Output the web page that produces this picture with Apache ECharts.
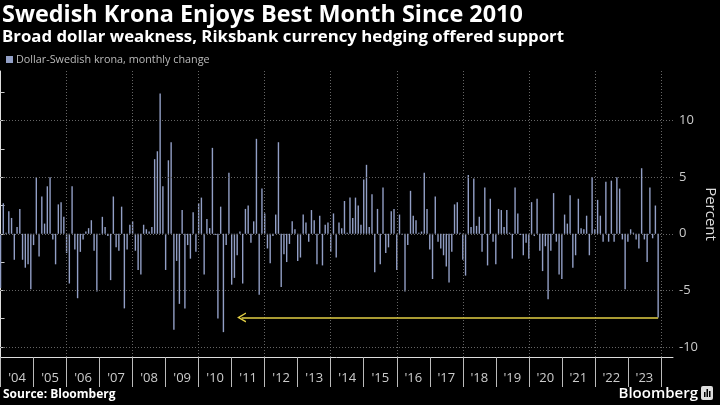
<!DOCTYPE html>
<html><head><meta charset="utf-8">
<script src="https://cdn.jsdelivr.net/npm/echarts@6/dist/echarts.min.js"></script>
<style>html,body{margin:0;padding:0;background:#000;}#c{width:720px;height:405px;}</style>
</head><body><div id="c"></div>
<script>
const titleText = 'Swedish Krona Enjoys Best Month Since 2010';
const subtitleText = 'Broad dollar weakness, Riksbank currency hedging offered support';
const seriesName = 'Dollar-Swedish krona, monthly change';
const sourceText = 'Source: Bloomberg';
const yAxisName = 'Percent';
// Monthly change (%) from Dec 2003 to Nov 2023, one value per month
const monthlyChange = [
 -4.8, 2.7, 0.1, 2.0, 1.4,-2.3, 0.6, 2.2,-2.3,-3.0,-2.7,-4.9,
 -1.0, 5.0,-2.0, 3.3, 0.9, 4.2, 5.0,-0.5,-2.7, 2.6, 2.8, 1.5,
 -1.7,-4.4, 4.2,-1.4,-5.7,-1.6,-0.5, 0.2, 0.5, 1.2,-1.5,-5.1,
 -0.1, 1.5, 0.6,-0.2,-4.1, 3.3,-1.2,-1.5, 2.4,-6.6,-1.4, 0.8,
  1.1,-1.5,-3.2,-3.6, 0.8, 0.4, 0.2, 0.6, 6.6, 7.3,12.4, 4.2,
 -3.2, 6.5, 8.1,-8.5,-2.4,-6.2, 2.1,-6.6,-1.0,-2.2, 1.9,-1.6,
  2.7, 3.2,-3.6, 1.3, 0.5, 7.6,-0.1,-7.5, 2.4,-8.7,-1.0, 5.4,
 -4.5,-3.9,-1.9, 0.2,-4.4, 2.2, 2.5,-0.8, 1.1, 8.4,-5.4, 4.0,
  1.8,-1.3,-2.6,-0.2, 1.7, 8.1,-4.7,-1.8,-2.5,-0.9, 1.1, 0.4,
 -2.4,-2.1, 1.7, 1.0,-0.7, 2.1, 1.2,-2.7, 1.6,-2.8, 0.8, 1.0,
 -1.6, 1.8,-2.1, 1.0, 0.5, 2.9, 0.1, 3.2, 1.4, 3.2, 2.5, 0.8,
  4.8, 6.1, 0.6, 3.5,-3.4, 2.2,-2.7, 4.1,-1.7,-1.2, 2.0, 2.2,
 -3.2, 1.7,-0.1,-5.1,-1.0, 3.8, 1.6, 1.2, 0.1, 0.2, 5.4, 2.2,
 -1.4,-4.0, 3.3,-0.7,-1.3,-1.9,-2.9,-4.3,-1.6, 2.6, 2.8, 0.1,
 -2.3,-3.7, 5.2, 0.6, 4.9, 0.7, 1.5,-1.6, 4.1,-2.8, 3.1,-0.7,
 -2.7, 2.2, 2.1, 0.6, 2.1, 0.1,-2.2, 4.1, 1.8,-0.1,-1.9,-0.8,
 -2.2, 2.8,-0.2, 3.1,-1.5,-3.3,-1.1,-5.8,-1.5, 3.6,-0.7,-3.6,
 -4.0, 1.7, 0.9, 3.4,-3.0,-1.9, 3.1, 0.5, 0.4, 1.6,-1.9, 5.0,
  0.4, 3.0, 1.6,-0.7, 4.6,-0.7, 4.7,-0.7, 5.0, 4.0,-0.5,-4.9,
 -0.7, 0.4, 0.1,-0.5,-1.3, 5.8,-0.5,-2.5, 4.1,-0.4, 2.5,-7.4
];
const yearLabels = ["'04","'05","'06","'07","'08","'09","'10","'11","'12","'13",
                    "'14","'15","'16","'17","'18","'19","'20","'21","'22","'23"];
const yTickValues = [-10,-7.5,-5,-2.5,0,2.5,5,7.5,10,12.5];
const yLabelValues = [-10,-5,0,5,10];
const arrowLevel = -7.4;      // latest month's change
const arrowTargetMonth = 87.6; // arrow tip, near Sep 2010

const barData = monthlyChange.map((v, i) => [i, v]);
const yearTicks = yearLabels.map((_, k) => 12 * k).concat([12 * yearLabels.length]);
const yearLabelPos = yearLabels.map((_, k) => 12 * k + 6);
const gridX = yearTicks.filter(v => v > 0 && v % 24 === 0);
const lastIndex = monthlyChange.length - 1;

const chart = echarts.init(document.getElementById('c'), null, {renderer: 'canvas'});
const FONT = '"Open Sans"';
chart.setOption({
  backgroundColor: '#000',
  animation: false,
  textStyle: {fontFamily: FONT},
  title: [
    {text: titleText, left: 2, top: 4, padding: 0,
     textStyle: {color: '#fff', fontSize: 23.4, fontWeight: 'bold', fontFamily: FONT}},
    {text: subtitleText, left: 2, top: 29, padding: 0,
     textStyle: {color: '#fff', fontSize: 16.8, fontWeight: 'bold', fontFamily: FONT}},
    {text: sourceText, left: 3, top: 389, padding: 0,
     textStyle: {color: '#fff', fontSize: 12, fontWeight: 'bold', fontFamily: FONT}}
  ],
  legend: {
    data: [seriesName], left: 6, top: 54, padding: 0, icon: 'rect',
    itemWidth: 7, itemHeight: 7, itemGap: 0,
    textStyle: {color: '#bbb', fontSize: 10.8, fontFamily: FONT, padding: [0,0,0,-2]}
  },
  grid: {left: 0, right: 47, top: 71, bottom: 48, containLabel: false, outerBoundsMode: 'none'},
  xAxis: {
    type: 'value', min: -0.2, max: 244.4,
    axisLine: {show: true, onZero: false, lineStyle: {color: '#ddd', width: 1}},
    axisTick: {show: true, customValues: yearTicks, length: 30, lineStyle: {color: '#bbb'}},
    axisLabel: {customValues: yearLabelPos, color: '#ccc', fontSize: 13, margin: 15,
      formatter: v => yearLabels[Math.round((v - 6) / 12)] || ''},
    splitLine: {show: false}
  },
  yAxis: {
    type: 'value', position: 'right', min: -10.9, max: 14.4,
    axisLine: {show: true, lineStyle: {color: '#ddd', width: 1}},
    axisTick: {show: true, customValues: yTickValues, length: 4, lineStyle: {color: '#ccc'}},
    axisLabel: {customValues: yLabelValues, color: '#ccc', fontSize: 13, margin: 6},
    splitLine: {show: false},
    name: yAxisName, nameLocation: 'middle', nameRotate: -90, nameGap: 30,
    nameMoveOverlap: false,
    nameTextStyle: {color: '#ddd', fontSize: 15, fontFamily: FONT}
  },
  series: [
    {
      type: 'line', data: barData, silent: true, z: 1,
      symbol: 'none', lineStyle: {opacity: 0},
      markLine: {
        silent: true, symbol: 'none', label: {show: false},
        lineStyle: {color: '#666', type: [1, 2], width: 1},
        data: yLabelValues.map(v => ({yAxis: v})).concat(gridX.map(v => ({xAxis: v})))
      }
    },
    {
      name: seriesName, type: 'bar', data: barData, barWidth: 1.4, z: 3,
      itemStyle: {color: '#929fc6'},
      markLine: {
        silent: true, label: {show: false},
        symbol: ['none', 'path://M0,10 L5,0 L10,10 L8.6,10.4 L5,3.2 L1.4,10.4 Z'],
        symbolSize: [10, 9],
        lineStyle: {color: '#e2cf44', width: 1.5, type: 'solid'},
        data: [[{coord: [lastIndex, arrowLevel]}, {coord: [arrowTargetMonth, arrowLevel]}]]
      }
    }
  ],
  graphic: [
    {type: 'text', right: 22, bottom: 4,
     style: {text: 'Bloomberg', fill: '#fff', font: '600 15px ' + FONT}},
    {type: 'group', right: 7, bottom: 5, children: [
      {type: 'rect', shape: {x: 0, y: 0, width: 12, height: 14, r: 2}, style: {fill: '#ddd'}},
      {type: 'rect', shape: {x: 3, y: 6, width: 1.5, height: 5}, style: {fill: '#000'}},
      {type: 'rect', shape: {x: 5.5, y: 3, width: 1.5, height: 8}, style: {fill: '#000'}},
      {type: 'rect', shape: {x: 8, y: 5, width: 1.5, height: 6}, style: {fill: '#000'}}
    ]}
  ]
});
</script></body></html>
